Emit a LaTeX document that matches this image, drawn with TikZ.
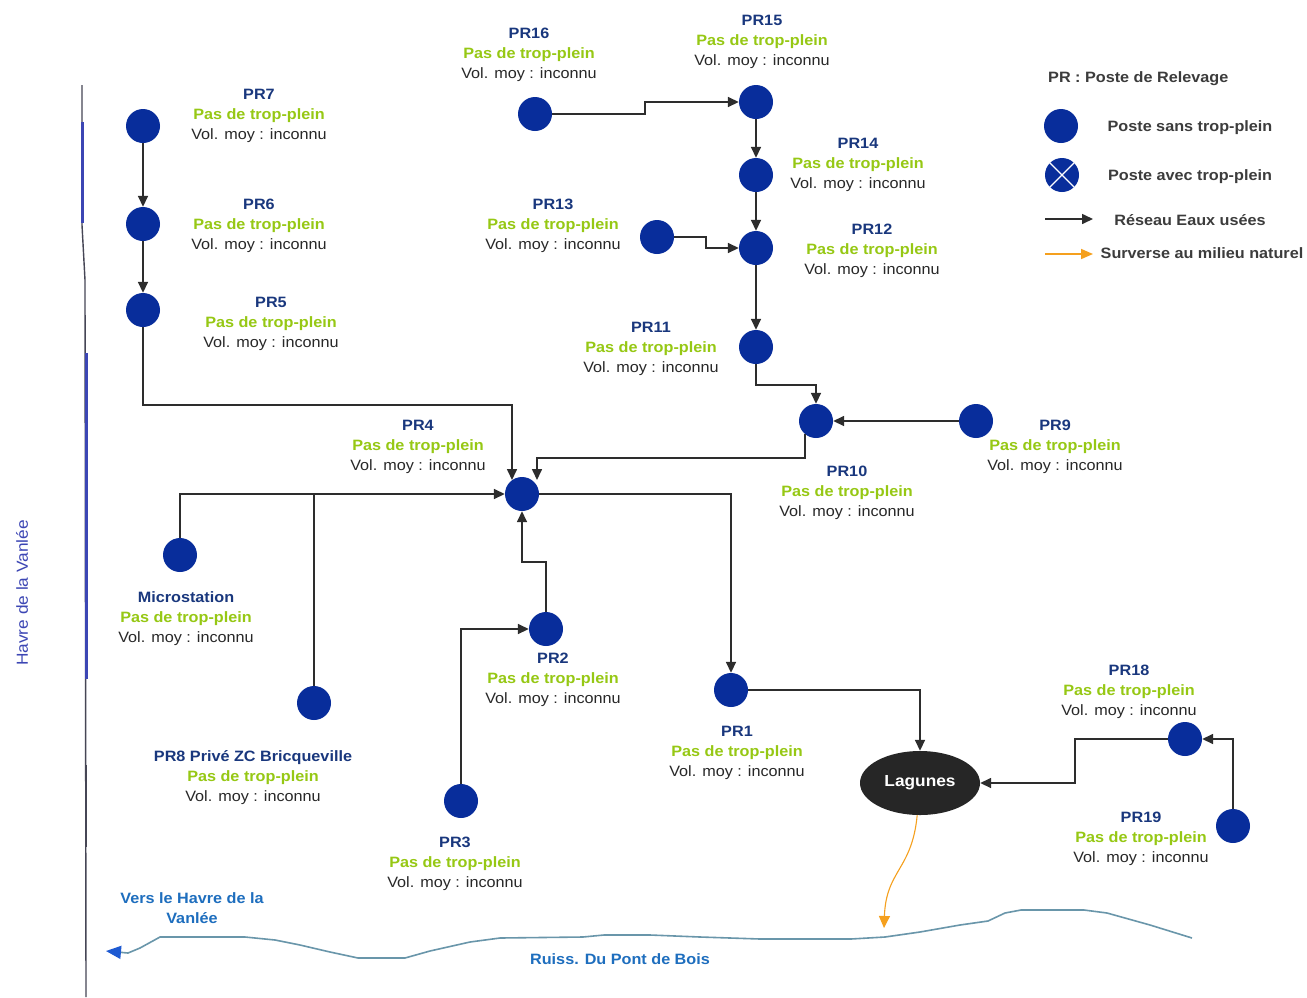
\documentclass[tikz,border=0pt]{standalone}
\usepackage{fontspec}
\setmainfont[FakeStretch=1.08]{Liberation Sans}
\usetikzlibrary{arrows.meta,shapes.geometric}
\definecolor{prblue}{RGB}{25,55,125}
\definecolor{plgreen}{RGB}{150,200,20}
\definecolor{volgray}{RGB}{40,40,40}
\definecolor{dotblue}{RGB}{8,45,155}
\definecolor{pipec}{RGB}{45,45,45}
\definecolor{legtxt}{RGB}{60,60,60}
\definecolor{riverc}{RGB}{105,150,170}
\definecolor{rivtxt}{RGB}{30,110,190}
\definecolor{rivarrow}{RGB}{30,90,210}
\definecolor{orng}{RGB}{245,160,30}
\definecolor{havre}{RGB}{60,70,180}
\definecolor{linegray}{RGB}{70,70,85}
\newcommand\lab[1]{\textcolor{prblue}{\bfseries #1}\\\textcolor{plgreen}{\bfseries Pas de trop-plein}\\Vol. moy : inconnu}
\tikzset{
  pr/.style={circle, fill=dotblue, minimum size=34pt, inner sep=0pt},
  lbl/.style={align=center, inner sep=0pt, text=volgray, font=\fontsize{15}{20}\selectfont, yshift=-3pt},
  legt/.style={inner sep=0pt, text=legtxt, font=\fontsize{15}{18}\selectfont\bfseries},
  flow/.style={draw=pipec, line width=1.6pt, -{Triangle[length=11pt,width=10pt]}},
  plain/.style={draw=pipec, line width=1.6pt},
}
\begin{document}
\begin{tikzpicture}[x=1pt,y=-1pt]
\fill[white] (0,0) rectangle (1307,997);
\path[use as bounding box] (0,0) rectangle (1307,997);

% left boundary line
\draw[linegray, line width=1.4pt] (82,85) -- (82,225) -- (85,280) -- (86,997);
\draw[havre, line width=3pt] (82,122) -- (82,223);
\draw[havre, line width=3pt] (86,353) -- (86,679);
\draw[linegray, line width=2.6pt] (86,765) -- (86,847);
\node[rotate=90, inner sep=0pt, text=havre, font=\fontsize{16}{18}\selectfont] (havre) at (22,593) {Havre de la Vanlée};

% stations
\node[pr] (pr7) at (143,126) {};
\node[pr] (pr6) at (143,224) {};
\node[pr] (pr5) at (143,310) {};
\node[pr] (pr16) at (535,114) {};
\node[pr] (pr15) at (756,102) {};
\node[pr] (pr14) at (756,175) {};
\node[pr] (pr13) at (657,237) {};
\node[pr] (pr12) at (756,248) {};
\node[pr] (pr11) at (756,347) {};
\node[pr] (pr10) at (816,421) {};
\node[pr] (pr9) at (976,421) {};
\node[pr] (pr4) at (522,494) {};
\node[pr] (ms) at (180,555) {};
\node[pr] (pr8) at (314,703) {};
\node[pr] (pr2) at (546,629) {};
\node[pr] (pr3) at (461,801) {};
\node[pr] (pr1) at (731,690) {};
\node[pr] (pr18) at (1185,739) {};
\node[pr] (pr19) at (1233,826) {};
\node[ellipse, fill=black!85, minimum width=120pt, minimum height=64pt, inner sep=0pt,
      text=white, font=\fontsize{16}{18}\selectfont\bfseries] (lag) at (920,783) {Lagunes};

% labels
\node[lbl] (l7) at (259,113) {\lab{PR7}};
\node[lbl] (l6) at (259,223) {\lab{PR6}};
\node[lbl] (l5) at (271,321) {\lab{PR5}};
\node[lbl] (l16) at (529,52) {\lab{PR16}};
\node[lbl] (l15) at (762,39) {\lab{PR15}};
\node[lbl] (l14) at (858,162) {\lab{PR14}};
\node[lbl] (l13) at (553,223) {\lab{PR13}};
\node[lbl] (l12) at (872,248) {\lab{PR12}};
\node[lbl] (l11) at (651,346) {\lab{PR11}};
\node[lbl] (l9) at (1055,444) {\lab{PR9}};
\node[lbl] (l10) at (847,490) {\lab{PR10}};
\node[lbl] (l4) at (418,444) {\lab{PR4}};
\node[lbl] (lms) at (186,616) {\lab{Microstation}};
\node[lbl] (l8) at (253,775) {\lab{PR8 Privé ZC Bricqueville}};
\node[lbl] (l2) at (553,677) {\lab{PR2}};
\node[lbl] (l3) at (455,861) {\lab{PR3}};
\node[lbl] (l1) at (737,750) {\lab{PR1}};
\node[lbl] (l18) at (1129,689) {\lab{PR18}};
\node[lbl] (l19) at (1141,836) {\lab{PR19}};

% network
\draw[flow] (pr7) -- (pr6);
\draw[flow] (pr6) -- (pr5);
\draw[flow] (pr5) |- (512,405) -- ([xshift=-10pt,yshift=14pt]pr4.center);
\draw[flow] (pr10.230) |- (537,458) -- ([xshift=15pt,yshift=14pt]pr4.center);
\draw[flow] (ms) |- (pr4);
\draw[plain] (pr8) -- (pr8 |- pr4);
\draw[flow] (pr2) |- (522,562) -- (pr4);
\draw[flow] (pr3) |- (pr2);
\draw[flow] (pr4) -| (pr1);
\draw[flow] (pr1) -| (lag);
\draw[flow] (pr18) -- (1075,739) |- (lag);
\draw[flow] (pr19) |- (pr18);
\draw[flow] (pr16) -- (645,114) |- (pr15);
\draw[flow] (pr15) -- (pr14);
\draw[flow] (pr14) -- (pr12);
\draw[flow] (pr13) -- (706,237) |- (pr12);
\draw[flow] (pr12) -- (pr11);
\draw[flow] (pr11) |- (816,385) -- (pr10);
\draw[flow] (pr9) -- (pr10);

% overflow to river
\coordinate (surv) at (884,928);
\draw[orng, line width=1.1pt, -{Triangle[length=12pt,width=11pt]}]
  (lag.265) .. controls (912,870) and (886,870) .. (surv);

% river
\coordinate (rivend) at (106,951);
\draw[riverc, line width=1.6pt, -{Triangle[length=15pt,width=13pt,color=rivarrow]}]
  (1192,938) -- (1150,925) -- (1107,913) -- (1084,910) -- (1021,910) -- (1005,913)
  -- (988,921) -- (960,925) -- (920,932) -- (885,937) -- (851,939) -- (760,939)
  -- (700,937) -- (650,935) -- (604,935) -- (583,937) -- (500,938) -- (470,942)
  -- (430,951) -- (405,958) -- (358,958) -- (330,952) -- (300,945) -- (275,940)
  -- (245,937) -- (160,937) -- (140,948) -- (128,953) -- (rivend);
\node[align=center, inner sep=0pt, text=rivtxt, font=\fontsize{15}{20}\selectfont\bfseries] (vers) at (192,908) {Vers le Havre de la\\Vanlée};
\node[inner sep=0pt, text=rivtxt, font=\fontsize{15}{18}\selectfont\bfseries] (ruiss) at (620,959) {Ruiss. Du Pont de Bois};

% legend
\node[legt, anchor=west] (lgt) at (1048,79) {PR : Poste de Relevage};
\node[pr] (lg1) at (1061,126) {};
\node[pr] (lg2) at (1062,175) {};
\draw[white, line width=1.3pt] (lg2.north west) -- (lg2.south east) (lg2.north east) -- (lg2.south west);
\coordinate (la1) at (1045,219);
\coordinate (la2) at (1093,219);
\draw[flow] (la1) -- (la2);
\coordinate (lo1) at (1045,254);
\coordinate (lo2) at (1093,254);
\draw[orng, line width=1.6pt, -{Triangle[length=12pt,width=10pt]}] (lo1) -- (lo2);
\node[legt] (lt1) at (1190,128) {Poste sans trop-plein};
\node[legt] (lt2) at (1190,177) {Poste avec trop-plein};
\node[legt] (lt3) at (1190,220) {Réseau Eaux usées};
\node[legt] (lt4) at (1202,253) {Surverse au milieu naturel};
\end{tikzpicture}
\end{document}
